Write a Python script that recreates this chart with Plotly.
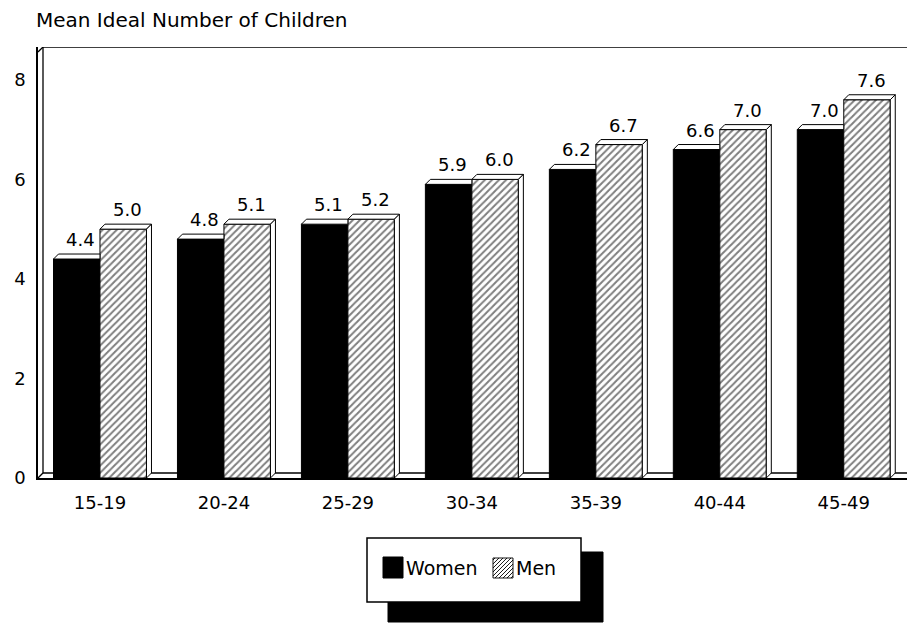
import plotly.graph_objects as go

# ---- data ----
categories = ["15-19", "20-24", "25-29", "30-34", "35-39", "40-44", "45-49"]
women = [4.4, 4.8, 5.1, 5.9, 6.2, 6.6, 7.0]
men = [5.0, 5.1, 5.2, 6.0, 6.7, 7.0, 7.6]
y_ticks = [0, 2, 4, 6, 8]
series_names = ["Women", "Men"]
title_text = "Mean Ideal Number of Children"

# ---- layout constants ----
W, H = 907, 623
ML, MR, MT, MB = 38, 0, 47, 145
PW, PH = W - ML - MR, H - MT - MB
X_RANGE = [-0.5, 6.51]
Y_RANGE = [0, 8.66]
BARGAP = 0.25
DEPTH = 5
FONT = "DejaVu Sans"
FS = 18

xpx = PW / (X_RANGE[1] - X_RANGE[0])
ypx = PH / (Y_RANGE[1] - Y_RANGE[0])
dx = DEPTH / xpx
dy = DEPTH / ypx
bw = (1 - BARGAP) / 2
xs = list(range(len(categories)))

fig = go.Figure()
fig.add_bar(x=xs, y=women, name=series_names[0],
            marker=dict(color="black", line=dict(color="black", width=1)),
            showlegend=False)
fig.add_bar(x=xs, y=men, name=series_names[1],
            marker=dict(color="white", line=dict(color="black", width=1),
                        pattern=dict(shape="/", fgcolor="black", bgcolor="white",
                                     size=5, solidity=0.4)),
            showlegend=False)

shapes = []
line_k = dict(color="black", width=1)


def P(x, y):
    return f"{x:.5f},{y:.5f}"


# 3D faces of bars
for i, (w, m) in enumerate(zip(women, men)):
    x0, x1 = i - bw, i
    shapes.append(dict(type="path", xref="x", yref="y", layer="above",
                       path=f"M{P(x0, w)} L{P(x0 + dx, w + dy)} L{P(x1, w + dy)} L{P(x1, w)} Z",
                       fillcolor="white", line=line_k))
    x0, x1 = i, i + bw
    shapes.append(dict(type="path", xref="x", yref="y", layer="above",
                       path=f"M{P(x0, m)} L{P(x0 + dx, m + dy)} L{P(x1 + dx, m + dy)} L{P(x1, m)} Z",
                       fillcolor="white", line=line_k))
    shapes.append(dict(type="path", xref="x", yref="y", layer="above",
                       path=f"M{P(x1, 0)} L{P(x1, m)} L{P(x1 + dx, m + dy)} L{P(x1 + dx, dy)} Z",
                       fillcolor="white", line=line_k))

# frame depth lines
xl, xr = X_RANGE
yt = Y_RANGE[1]
frame_lines = [
    (xl + dx, dy, xl + dx, yt),
    (xl, yt - dy, xl + dx, yt),
    (xl + dx, yt, xr, yt),
    (xl, 0, xl + dx, dy),
    (xl + dx, dy, xr, dy),
]
for a, b, c, d in frame_lines:
    shapes.append(dict(type="line", xref="x", yref="y", x0=a, y0=b, x1=c, y1=d,
                       line=dict(color="black", width=1.3), layer="below"))


# ---- legend (manual) ----
def fx(px):
    return (px - ML) / PW


def fy(py):
    return (H - MB - py) / PH


shapes.append(dict(type="rect", xref="paper", yref="paper",
                   x0=fx(388), x1=fx(603), y0=fy(552), y1=fy(622),
                   fillcolor="black", line=dict(color="black", width=1)))
shapes.append(dict(type="rect", xref="paper", yref="paper",
                   x0=fx(367), x1=fx(581), y0=fy(538), y1=fy(602),
                   fillcolor="white", line=dict(color="black", width=1.5)))
shapes.append(dict(type="rect", xref="paper", yref="paper",
                   x0=fx(383), x1=fx(403), y0=fy(557), y1=fy(578),
                   fillcolor="black", line=dict(color="black", width=1)))
# hatched swatch
sx0, sy0, S = 493, 578, 20
segs = [f"M{fx(sx0):.5f},{fy(sy0):.5f} L{fx(sx0 + S):.5f},{fy(sy0):.5f} "
        f"L{fx(sx0 + S):.5f},{fy(sy0 - S):.5f} L{fx(sx0):.5f},{fy(sy0 - S):.5f} Z"]
for c in range(-S + 2, S, 4):
    a0 = max(0, -c)
    a1 = min(S, S - c)
    segs.append(f"M{fx(sx0 + a0):.5f},{fy(sy0 - (a0 + c)):.5f} "
                f"L{fx(sx0 + a1):.5f},{fy(sy0 - (a1 + c)):.5f}")
shapes.append(dict(type="path", xref="paper", yref="paper", path=" ".join(segs),
                   line=dict(color="black", width=0.9)))

annotations = []
for name, px in zip(series_names, [404, 514]):
    annotations.append(dict(xref="paper", yref="paper", x=fx(px), y=fy(568),
                            xanchor="left", yanchor="middle", showarrow=False,
                            text=name, font=dict(family=FONT, size=19, color="black")))

# value labels
for i, (w, m) in enumerate(zip(women, men)):
    for xv, v in ((i - bw / 2, w), (i + bw / 2, m)):
        annotations.append(dict(x=xv, y=v, xref="x", yref="y", text=f"{v:.1f}",
                                showarrow=False, yanchor="bottom", xanchor="center",
                                xshift=4, yshift=7,
                                font=dict(family=FONT, size=FS, color="black")))

fig.update_layout(
    width=W, height=H,
    margin=dict(l=ML, r=MR, t=MT, b=MB, pad=0),
    paper_bgcolor="white", plot_bgcolor="white",
    barmode="group", bargap=BARGAP, bargroupgap=0,
    font=dict(family=FONT, size=FS, color="black"),
    title=dict(text=title_text, xref="container", x=36 / W, xanchor="left",
               yref="container", y=1 - 20 / H, yanchor="middle",
               font=dict(family=FONT, size=20, color="black")),
    xaxis=dict(range=X_RANGE, tickmode="array", tickvals=xs, ticktext=categories,
               showgrid=False, zeroline=False, showline=True, linecolor="black",
               linewidth=1.5, mirror=False, ticks="", ticklabelstandoff=8,
               tickfont=dict(family=FONT, size=FS)),
    yaxis=dict(range=Y_RANGE, tickmode="array", tickvals=y_ticks,
               showgrid=False, zeroline=False, showline=True, linecolor="black",
               linewidth=1.5, ticks="", ticklabelstandoff=7,
               tickfont=dict(family=FONT, size=FS)),
    shapes=shapes, annotations=annotations,
)

fig.write_html("out.html", config={"displayModeBar": False},
               post_script="document.body.style.margin='0px';")
